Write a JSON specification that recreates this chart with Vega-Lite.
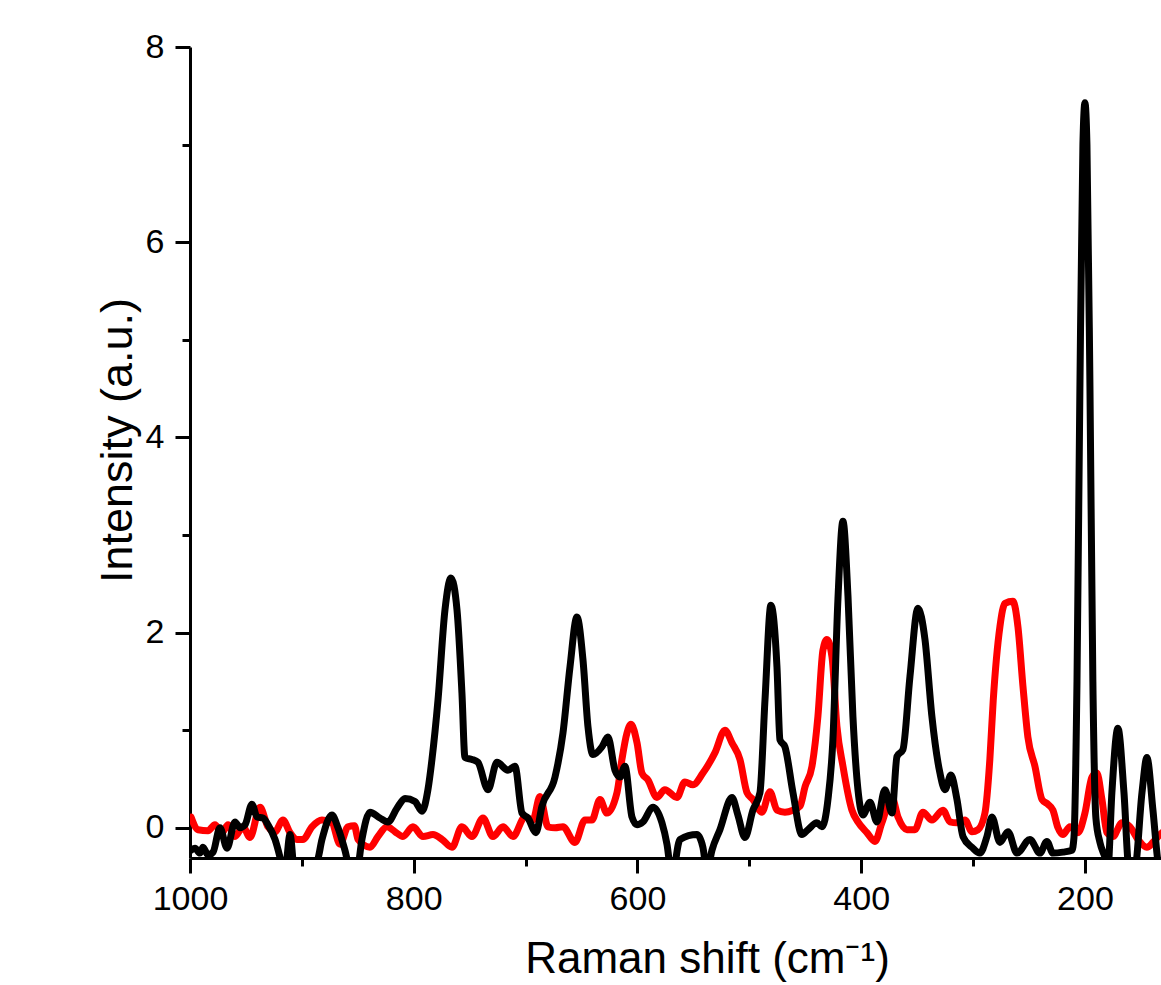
{
  "$schema": "https://vega.github.io/schema/vega-lite/v6.json",
  "width": 971,
  "height": 811,
  "autosize": {"type": "none"},
  "padding": {"left": 190, "top": 47, "right": 0, "bottom": 127},
  "background": "white",
  "config": {"view": {"stroke": null}},
  "datasets": {
    "red": [
      {"shift": 999.1, "intensity": 0.11}, {"shift": 992.8, "intensity": -0.02}, {"shift": 983.9, "intensity": -0.03},
      {"shift": 977.7, "intensity": 0.03}, {"shift": 971.4, "intensity": -0.05}, {"shift": 966.0, "intensity": 0.03},
      {"shift": 959.8, "intensity": -0.09}, {"shift": 952.6, "intensity": 0.01}, {"shift": 946.4, "intensity": -0.1},
      {"shift": 937.4, "intensity": 0.21}, {"shift": 930.3, "intensity": 0.01}, {"shift": 924.0, "intensity": -0.04},
      {"shift": 916.9, "intensity": 0.08}, {"shift": 910.6, "intensity": -0.05}, {"shift": 904.4, "intensity": -0.12},
      {"shift": 899.0, "intensity": -0.12}, {"shift": 891.0, "intensity": 0.01}, {"shift": 882.0, "intensity": 0.08},
      {"shift": 873.1, "intensity": 0.05}, {"shift": 865.9, "intensity": -0.17}, {"shift": 858.8, "intensity": 0.01},
      {"shift": 853.0, "intensity": 0.02}, {"shift": 849.8, "intensity": -0.12}, {"shift": 839.1, "intensity": -0.2},
      {"shift": 832.0, "intensity": -0.09}, {"shift": 823.9, "intensity": 0.01}, {"shift": 816.8, "intensity": -0.04},
      {"shift": 809.6, "intensity": -0.09}, {"shift": 800.7, "intensity": 0.01}, {"shift": 791.7, "intensity": -0.09},
      {"shift": 782.8, "intensity": -0.07}, {"shift": 774.7, "intensity": -0.12}, {"shift": 765.8, "intensity": -0.2},
      {"shift": 756.9, "intensity": 0.01}, {"shift": 747.9, "intensity": -0.09}, {"shift": 738.1, "intensity": 0.1},
      {"shift": 729.2, "intensity": -0.09}, {"shift": 720.2, "intensity": 0.01}, {"shift": 711.3, "intensity": -0.09},
      {"shift": 700.6, "intensity": 0.11}, {"shift": 693.4, "intensity": 0.08}, {"shift": 687.2, "intensity": 0.32},
      {"shift": 680.0, "intensity": 0.01}, {"shift": 673.7, "intensity": 0.0}, {"shift": 666.6, "intensity": 0.01},
      {"shift": 655.9, "intensity": -0.15}, {"shift": 646.9, "intensity": 0.08}, {"shift": 640.7, "intensity": 0.08},
      {"shift": 633.5, "intensity": 0.29}, {"shift": 627.3, "intensity": 0.15}, {"shift": 618.3, "intensity": 0.36},
      {"shift": 613.9, "intensity": 0.7}, {"shift": 609.4, "intensity": 0.97}, {"shift": 605.8, "intensity": 1.06},
      {"shift": 600.4, "intensity": 0.87}, {"shift": 596.0, "intensity": 0.56}, {"shift": 590.6, "intensity": 0.49},
      {"shift": 582.6, "intensity": 0.31}, {"shift": 575.5, "intensity": 0.39}, {"shift": 564.7, "intensity": 0.31},
      {"shift": 557.6, "intensity": 0.47}, {"shift": 550.4, "intensity": 0.44}, {"shift": 541.5, "intensity": 0.56},
      {"shift": 530.7, "intensity": 0.77}, {"shift": 521.8, "intensity": 1.0}, {"shift": 515.5, "intensity": 0.87},
      {"shift": 508.4, "intensity": 0.7}, {"shift": 502.1, "intensity": 0.36}, {"shift": 496.8, "intensity": 0.29},
      {"shift": 488.7, "intensity": 0.16}, {"shift": 481.6, "intensity": 0.37}, {"shift": 475.3, "intensity": 0.18},
      {"shift": 468.2, "intensity": 0.16}, {"shift": 461.0, "intensity": 0.18}, {"shift": 454.7, "intensity": 0.22},
      {"shift": 450.2, "intensity": 0.42}, {"shift": 444.0, "intensity": 0.63}, {"shift": 438.7, "intensity": 1.14},
      {"shift": 434.2, "intensity": 1.82}, {"shift": 430.6, "intensity": 1.93}, {"shift": 426.1, "intensity": 1.75},
      {"shift": 421.7, "intensity": 1.04}, {"shift": 416.3, "intensity": 0.63}, {"shift": 408.3, "intensity": 0.18},
      {"shift": 402.9, "intensity": 0.06}, {"shift": 394.9, "intensity": -0.05}, {"shift": 387.7, "intensity": -0.14},
      {"shift": 381.5, "intensity": 0.05}, {"shift": 372.5, "intensity": 0.31}, {"shift": 367.1, "intensity": 0.11},
      {"shift": 359.1, "intensity": -0.02}, {"shift": 352.0, "intensity": -0.02}, {"shift": 344.8, "intensity": 0.16},
      {"shift": 336.8, "intensity": 0.08}, {"shift": 326.9, "intensity": 0.18}, {"shift": 320.7, "intensity": 0.06},
      {"shift": 314.4, "intensity": 0.05}, {"shift": 307.3, "intensity": 0.08}, {"shift": 301.0, "intensity": -0.04},
      {"shift": 295.6, "intensity": -0.02}, {"shift": 289.4, "intensity": 0.15}, {"shift": 285.0, "intensity": 0.7},
      {"shift": 282.0, "intensity": 1.3}, {"shift": 276.0, "intensity": 2.06}, {"shift": 271.5, "intensity": 2.3},
      {"shift": 264.4, "intensity": 2.32}, {"shift": 259.9, "intensity": 2.06}, {"shift": 255.4, "intensity": 1.45},
      {"shift": 251.0, "intensity": 0.93}, {"shift": 244.7, "intensity": 0.63}, {"shift": 238.4, "intensity": 0.29},
      {"shift": 233.1, "intensity": 0.24}, {"shift": 228.6, "intensity": 0.18}, {"shift": 224.1, "intensity": 0.0},
      {"shift": 219.7, "intensity": -0.07}, {"shift": 213.4, "intensity": 0.01}, {"shift": 206.3, "intensity": -0.05},
      {"shift": 200.0, "intensity": 0.15}, {"shift": 193.7, "intensity": 0.52}, {"shift": 189.3, "intensity": 0.56},
      {"shift": 184.8, "intensity": 0.29}, {"shift": 180.3, "intensity": -0.05}, {"shift": 175.0, "intensity": -0.09},
      {"shift": 166.9, "intensity": 0.05}, {"shift": 159.8, "intensity": 0.01}, {"shift": 152.6, "intensity": -0.12},
      {"shift": 144.6, "intensity": -0.2}, {"shift": 139.2, "intensity": -0.15}, {"shift": 133.0, "intensity": -0.07},
      {"shift": 131.0, "intensity": -0.05}
    ],
    "black": [
      {"shift": 999.1, "intensity": -0.23}, {"shift": 995.5, "intensity": -0.21}, {"shift": 991.1, "intensity": -0.26},
      {"shift": 988.4, "intensity": -0.2}, {"shift": 983.9, "intensity": -0.28}, {"shift": 979.4, "intensity": -0.25},
      {"shift": 973.2, "intensity": 0.0}, {"shift": 966.9, "intensity": -0.21}, {"shift": 959.8, "intensity": 0.06},
      {"shift": 955.3, "intensity": 0.0}, {"shift": 950.8, "intensity": 0.03}, {"shift": 944.6, "intensity": 0.24},
      {"shift": 940.1, "intensity": 0.11}, {"shift": 934.7, "intensity": 0.1}, {"shift": 930.3, "intensity": 0.03},
      {"shift": 924.0, "intensity": -0.12}, {"shift": 919.6, "intensity": -0.3}, {"shift": 915.5, "intensity": -0.5},
      {"shift": 910.6, "intensity": -0.07}, {"shift": 906.1, "intensity": -0.5}, {"shift": 897.2, "intensity": -0.45},
      {"shift": 886.5, "intensity": -0.35}, {"shift": 882.0, "intensity": -0.12}, {"shift": 873.1, "intensity": 0.13},
      {"shift": 867.7, "intensity": 0.0}, {"shift": 861.5, "intensity": -0.23}, {"shift": 855.2, "intensity": -0.5},
      {"shift": 850.7, "intensity": -0.45}, {"shift": 846.3, "intensity": -0.12}, {"shift": 839.1, "intensity": 0.16},
      {"shift": 830.2, "intensity": 0.1}, {"shift": 823.0, "intensity": 0.06}, {"shift": 815.0, "intensity": 0.2},
      {"shift": 807.8, "intensity": 0.3}, {"shift": 798.9, "intensity": 0.27}, {"shift": 792.6, "intensity": 0.17},
      {"shift": 787.3, "intensity": 0.39}, {"shift": 783.7, "intensity": 0.7}, {"shift": 778.3, "intensity": 1.31},
      {"shift": 772.1, "intensity": 2.23}, {"shift": 766.7, "intensity": 2.56}, {"shift": 761.3, "intensity": 2.23},
      {"shift": 756.9, "intensity": 1.38}, {"shift": 754.2, "intensity": 0.72}, {"shift": 747.9, "intensity": 0.7},
      {"shift": 742.6, "intensity": 0.67}, {"shift": 733.6, "intensity": 0.39}, {"shift": 725.6, "intensity": 0.67},
      {"shift": 715.8, "intensity": 0.59}, {"shift": 709.5, "intensity": 0.63}, {"shift": 703.2, "intensity": 0.15},
      {"shift": 697.9, "intensity": 0.1}, {"shift": 690.7, "intensity": -0.05}, {"shift": 685.4, "intensity": 0.22},
      {"shift": 673.7, "intensity": 0.52}, {"shift": 666.6, "intensity": 0.97}, {"shift": 660.3, "intensity": 1.65},
      {"shift": 654.1, "intensity": 2.16}, {"shift": 648.7, "intensity": 1.72}, {"shift": 644.2, "intensity": 1.03},
      {"shift": 639.8, "intensity": 0.75}, {"shift": 631.7, "intensity": 0.83}, {"shift": 626.4, "intensity": 0.93},
      {"shift": 620.1, "intensity": 0.59}, {"shift": 615.6, "intensity": 0.52}, {"shift": 611.2, "intensity": 0.63},
      {"shift": 604.9, "intensity": 0.11}, {"shift": 600.4, "intensity": 0.03}, {"shift": 595.1, "intensity": 0.06},
      {"shift": 586.1, "intensity": 0.21}, {"shift": 578.1, "intensity": 0.05}, {"shift": 573.6, "intensity": -0.17},
      {"shift": 569.2, "intensity": -0.5}, {"shift": 562.0, "intensity": -0.12}, {"shift": 546.8, "intensity": -0.07},
      {"shift": 541.5, "intensity": -0.2}, {"shift": 537.9, "intensity": -0.45}, {"shift": 533.4, "intensity": -0.23},
      {"shift": 526.3, "intensity": -0.02}, {"shift": 515.5, "intensity": 0.31}, {"shift": 510.2, "intensity": 0.13},
      {"shift": 503.9, "intensity": -0.1}, {"shift": 496.8, "intensity": 0.18}, {"shift": 490.5, "intensity": 0.36},
      {"shift": 486.0, "intensity": 1.31}, {"shift": 480.7, "intensity": 2.28}, {"shift": 475.3, "intensity": 1.65},
      {"shift": 472.6, "intensity": 0.9}, {"shift": 468.2, "intensity": 0.83}, {"shift": 461.0, "intensity": 0.36},
      {"shift": 453.0, "intensity": -0.07}, {"shift": 447.6, "intensity": -0.02}, {"shift": 439.6, "intensity": 0.05},
      {"shift": 435.1, "intensity": 0.01}, {"shift": 429.7, "intensity": 0.29}, {"shift": 425.3, "intensity": 0.9},
      {"shift": 420.8, "intensity": 2.34}, {"shift": 416.3, "intensity": 3.14}, {"shift": 411.8, "intensity": 2.37},
      {"shift": 407.4, "intensity": 1.14}, {"shift": 402.9, "intensity": 0.39}, {"shift": 398.4, "intensity": 0.13},
      {"shift": 392.2, "intensity": 0.26}, {"shift": 385.9, "intensity": 0.06}, {"shift": 378.8, "intensity": 0.39},
      {"shift": 372.5, "intensity": 0.15}, {"shift": 368.0, "intensity": 0.73}, {"shift": 362.7, "intensity": 0.8},
      {"shift": 356.4, "intensity": 1.55}, {"shift": 349.3, "intensity": 2.25}, {"shift": 343.0, "intensity": 1.93},
      {"shift": 336.8, "intensity": 1.14}, {"shift": 329.6, "intensity": 0.56}, {"shift": 325.1, "intensity": 0.39},
      {"shift": 319.8, "intensity": 0.54}, {"shift": 314.4, "intensity": 0.29}, {"shift": 309.0, "intensity": -0.09},
      {"shift": 301.0, "intensity": -0.2}, {"shift": 293.9, "intensity": -0.26}, {"shift": 287.6, "intensity": -0.09},
      {"shift": 283.1, "intensity": 0.11}, {"shift": 276.0, "intensity": -0.15}, {"shift": 268.8, "intensity": -0.04},
      {"shift": 260.8, "intensity": -0.26}, {"shift": 249.2, "intensity": -0.12}, {"shift": 240.2, "intensity": -0.26},
      {"shift": 234.0, "intensity": -0.14}, {"shift": 228.6, "intensity": -0.26}, {"shift": 219.7, "intensity": -0.25},
      {"shift": 211.6, "intensity": -0.23}, {"shift": 209.8, "intensity": -0.1}, {"shift": 207.1, "intensity": 1.5},
      {"shift": 204.5, "intensity": 4.5}, {"shift": 201.8, "intensity": 7.0}, {"shift": 200.0, "intensity": 7.43},
      {"shift": 198.2, "intensity": 7.0}, {"shift": 195.5, "intensity": 4.5}, {"shift": 192.9, "intensity": 1.5},
      {"shift": 190.2, "intensity": 0.1}, {"shift": 186.6, "intensity": -0.15}, {"shift": 182.1, "intensity": -0.3},
      {"shift": 179.4, "intensity": -0.4}, {"shift": 175.9, "intensity": 0.36}, {"shift": 170.5, "intensity": 1.02},
      {"shift": 165.1, "intensity": 0.36}, {"shift": 160.7, "intensity": -0.4}, {"shift": 155.3, "intensity": -0.4},
      {"shift": 149.0, "intensity": 0.36}, {"shift": 144.6, "intensity": 0.72}, {"shift": 139.2, "intensity": 0.18},
      {"shift": 134.7, "intensity": -0.35}, {"shift": 131.2, "intensity": -0.5}
    ]
  },
  "encoding": {
    "x": {
      "field": "shift", "type": "quantitative",
      "scale": {"domain": [132, 1000], "reverse": true, "nice": false, "zero": false},
      "axis": {
        "title": "Raman shift (cm⁻¹)",
        "values": [1000, 900, 800, 700, 600, 500, 400, 300, 200],
        "format": "d",
        "labelExpr": "datum.value % 200 == 0 ? datum.label : ''",
        "tickSize": {"condition": {"test": "datum.value % 200 != 0", "value": 8}, "value": 15},
        "grid": false, "labelOverlap": false, "labelFlush": false,
        "domainColor": "black", "domainWidth": 3, "tickColor": "black", "tickWidth": 3,
        "labelFont": "Liberation Sans", "labelFontSize": 34, "labelColor": "black", "labelPadding": 9,
        "titleFont": "Liberation Sans", "titleFontSize": 44, "titleFontWeight": "normal", "titleColor": "black",
        "titleX": 517, "titleY": 114, "titleBaseline": "alphabetic", "titleAlign": "center"
      }
    },
    "y": {
      "field": "intensity", "type": "quantitative",
      "scale": {"domain": [-0.31, 8], "nice": false, "zero": false},
      "axis": {
        "title": "Intensity (a.u.)",
        "values": [0, 1, 2, 3, 4, 5, 6, 7, 8],
        "labelExpr": "datum.value % 2 == 0 ? datum.label : ''",
        "tickSize": {"condition": {"test": "datum.value % 2 != 0", "value": 8}, "value": 15},
        "grid": false, "labelOverlap": false, "labelFlush": false,
        "domainColor": "black", "domainWidth": 3, "tickColor": "black", "tickWidth": 3,
        "labelFont": "Liberation Sans", "labelFontSize": 34, "labelColor": "black", "labelPadding": 11,
        "titleFont": "Liberation Sans", "titleFontSize": 45, "titleFontWeight": "normal", "titleColor": "black",
        "titleX": -59, "titleY": 393, "titleBaseline": "alphabetic", "titleAlign": "center", "titleAngle": -90
      }
    }
  },
  "layer": [
    {
      "data": {"name": "red"},
      "mark": {"type": "line", "color": "#ff0000", "strokeWidth": 7, "clip": true, "interpolate": "monotone", "strokeJoin": "round", "strokeCap": "round"}
    },
    {
      "data": {"name": "black"},
      "mark": {"type": "line", "color": "#000000", "strokeWidth": 7, "clip": true, "interpolate": "monotone", "strokeJoin": "round", "strokeCap": "round"}
    }
  ]
}
